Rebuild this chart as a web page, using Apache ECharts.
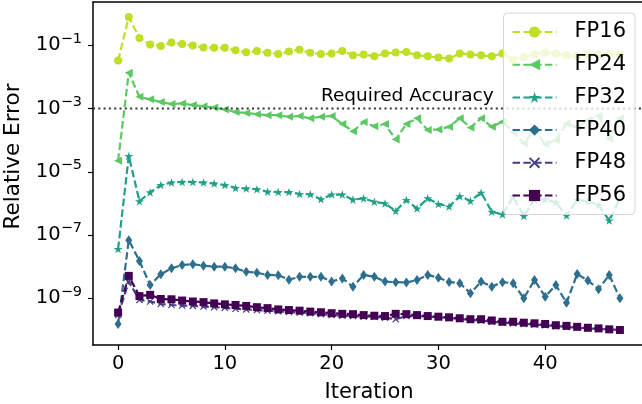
<!DOCTYPE html>
<html>
<head>
<meta charset="utf-8">
<script src="https://cdn.jsdelivr.net/npm/echarts@6/dist/echarts.min.js"></script>
<style>
  html, body { margin: 0; padding: 0; background: #fff; }
  #chart { width: 642px; height: 404px; }
</style>
</head>
<body>
<div id="chart"></div>
<script>
// iteration index of every point
const iterations = [0, 1, 2, 3, 4, 5, 6, 7, 8, 9, 10, 11, 12, 13, 14, 15, 16, 17, 18, 19,
  20, 21, 22, 23, 24, 25, 26, 27, 28, 29, 30, 31, 32, 33, 34, 35, 36, 37, 38, 39,
  40, 41, 42, 43, 44, 45, 46, 47]

// relative error, stored as log10 exponents
const fp16Exp = [-1.48, -0.11, -0.77, -0.98, -1.02, -0.91, -0.96, -1.01, -1.07, -1.08,
  -1.08, -1.16, -1.22, -1.18, -1.24, -1.28, -1.20, -1.14, -1.24, -1.28,
  -1.26, -1.18, -1.32, -1.29, -1.35, -1.26, -1.23, -1.21, -1.32, -1.35,
  -1.39, -1.42, -1.26, -1.29, -1.32, -1.35, -1.26, -1.45, -1.37, -1.29,
  -1.23, -1.26, -1.32, -1.35, -1.28, -1.29, -1.28, -1.28]
const fp24Exp = [-4.65, -1.87, -2.63, -2.71, -2.79, -2.86, -2.84, -2.89, -2.93, -2.97,
  -3.03, -3.11, -3.14, -3.18, -3.21, -3.21, -3.26, -3.24, -3.31, -3.26,
  -3.24, -3.49, -3.72, -3.43, -3.56, -3.49, -3.98, -3.49, -3.31, -3.68,
  -3.66, -3.58, -3.31, -3.60, -3.31, -3.58, -3.42, -3.74, -4.10, -3.66,
  -4.13, -4.00, -3.47, -3.60, -3.37, -3.24, -3.95, -3.31]
const fp32Exp = [-7.44, -4.50, -5.93, -5.65, -5.42, -5.34, -5.32, -5.32, -5.34, -5.37,
  -5.42, -5.51, -5.53, -5.55, -5.63, -5.64, -5.64, -5.70, -5.71, -5.87,
  -5.72, -5.72, -5.88, -5.84, -5.95, -6.00, -6.24, -5.89, -6.16, -5.84,
  -6.02, -6.10, -5.77, -5.92, -5.66, -6.26, -6.35, -5.79, -6.40, -5.87,
  -5.87, -5.97, -6.38, -5.89, -5.93, -6.05, -6.54, -5.85]
const fp40Exp = [-9.81, -7.16, -7.82, -8.58, -8.24, -8.05, -7.95, -7.92, -7.97, -8.00,
  -8.00, -8.05, -8.16, -8.19, -8.26, -8.27, -8.41, -8.32, -8.32, -8.32,
  -8.47, -8.37, -8.63, -8.26, -8.32, -8.47, -8.49, -8.50, -8.42, -8.26,
  -8.35, -8.48, -8.52, -8.84, -8.47, -8.63, -8.49, -8.52, -9.00, -8.42,
  -8.95, -8.58, -9.14, -8.23, -8.44, -8.71, -8.26, -9.00]
const fp48Exp = [-9.53, -8.47, -9.05, -9.10, -9.18, -9.21, -9.23, -9.24, -9.26, -9.28,
  -9.30, -9.33, -9.35, -9.37, -9.39, -9.41, -9.43, -9.45, -9.47, -9.50,
  -9.53, -9.55, -9.56, -9.58, -9.58, -9.61, -9.66, -9.56, -9.56, -9.58,
  -9.60, -9.62, -9.65, -9.68, -9.70, -9.74, -9.77, -9.79, -9.81, -9.83,
  -9.85, -9.88, -9.90, -9.93, -9.95, -9.97, -9.98, -10.00]
const fp56Exp = [-9.45, -8.29, -8.93, -8.89, -9.02, -9.03, -9.07, -9.10, -9.12, -9.16,
  -9.19, -9.21, -9.24, -9.28, -9.31, -9.35, -9.37, -9.39, -9.42, -9.44,
  -9.47, -9.49, -9.50, -9.53, -9.55, -9.56, -9.49, -9.50, -9.53, -9.56,
  -9.58, -9.60, -9.63, -9.66, -9.66, -9.70, -9.74, -9.74, -9.77, -9.79,
  -9.81, -9.85, -9.87, -9.90, -9.93, -9.95, -9.98, -10.00]

const seriesNames = ['FP16', 'FP24', 'FP32', 'FP40', 'FP48', 'FP56']
const xTicks = [0, 10, 20, 30, 40]
const yTicks = [1e-9, 1e-7, 1e-5, 1e-3, 1e-1]
const xMin = -2.35
const xMax = 49.35
const yMin = Math.pow(10, -10.475)
const yMax = Math.pow(10, 0.367)
const requiredAccuracy = 1e-3
const accuracyLabelX = 19

const colors = ['#bddf26', '#5cc863', '#1fa088', '#2e6e8e', '#433e85', '#440154']

const starPath = 'path://M50,0 L61.2,34.6 L97.6,34.6 L68.1,55.9 L79.4,90.5 L50,69 L20.6,90.5 L31.9,55.9 L2.4,34.6 L38.8,34.6 Z'
const crossPath = 'path://M0,12 L12,0 L50,38 L88,0 L100,12 L62,50 L100,88 L88,100 L50,62 L12,100 L0,88 L38,50 Z'

const markers = [
  { symbol: 'circle', size: 8, rotate: 0 },
  { symbol: 'triangle', size: 8, rotate: 90 },
  { symbol: starPath, size: 9, rotate: 0 },
  { symbol: 'diamond', size: [7, 10], rotate: 0 },
  { symbol: crossPath, size: 7, rotate: 0 },
  { symbol: 'rect', size: 8, rotate: 0 }
]

const allExp = [fp16Exp, fp24Exp, fp32Exp, fp40Exp, fp48Exp, fp56Exp]

const font = 'DejaVu Sans'

const chart = echarts.init(document.getElementById('chart'), null, { renderer: 'canvas' })

const series = seriesNames.map((name, i) => {
  return {
    name: name,
    type: 'line',
    data: iterations.map((x, k) => [x, Math.pow(10, allExp[i][k])]),
    symbol: markers[i].symbol,
    symbolSize: markers[i].size,
    symbolRotate: markers[i].rotate,
    symbolKeepAspect: true,
    showAllSymbol: true,
    itemStyle: { color: colors[i] },
    lineStyle: { color: colors[i], width: 2.2, type: [7.5, 3.3] },
    emphasis: { disabled: true },
    z: 3
  }
})

// horizontal dotted reference line across the whole axis
series.push({
  name: 'Required Accuracy',
  type: 'line',
  data: [[xMin, requiredAccuracy], [xMax, requiredAccuracy]],
  symbol: 'none',
  silent: true,
  lineStyle: { color: '#333', width: 2, type: [2, 3.3] },
  emphasis: { disabled: true },
  z: 4,
  markPoint: {
    silent: true,
    symbolSize: 0,
    itemStyle: { color: 'transparent' },
    label: {
      show: true,
      position: 'right',
      distance: 0,
      offset: [0, -12],
      formatter: 'Required Accuracy',
      color: '#000',
      fontFamily: font,
      fontSize: 18.5
    },
    data: [{ coord: [accuracyLabelX, requiredAccuracy] }]
  }
})

const axisLineStyle = { color: '#000', width: 1.5 }

const option = {
  animation: false,
  textStyle: { fontFamily: font, color: '#000' },
  grid: {
    left: 93,
    top: 2,
    width: 552,
    height: 343,
    outerBoundsMode: 'none',
    show: false
  },
  legend: {
    data: seriesNames,
    orient: 'vertical',
    right: 7,
    top: 13,
    z: 10,
    padding: [8, 9, 8, 8],
    itemWidth: 44,
    itemHeight: 14,
    itemGap: 10.7,
    backgroundColor: 'rgba(255,255,255,0.8)',
    borderColor: '#d6d6d6',
    borderWidth: 1,
    borderRadius: 4,
    textStyle: {
      fontFamily: font,
      fontSize: 21,
      lineHeight: 22,
      color: '#000',
      padding: [0, 0, 0, 13]
    }
  },
  xAxis: [
    {
      type: 'value',
      min: xMin,
      max: xMax,
      name: 'Iteration',
      nameLocation: 'middle',
      nameGap: 37,
      nameTextStyle: { fontFamily: font, fontSize: 21, color: '#000' },
      axisLine: { show: true, onZero: false, lineStyle: axisLineStyle },
      axisTick: { show: true, length: 5, lineStyle: { color: '#000', width: 1.2 }, customValues: xTicks },
      axisLabel: { fontFamily: font, fontSize: 19.5, color: '#000', margin: 9, customValues: xTicks },
      splitLine: { show: false }
    },
    {
      // top spine only
      type: 'value',
      position: 'top',
      min: xMin,
      max: xMax,
      axisLine: { show: true, onZero: false, lineStyle: axisLineStyle },
      axisTick: { show: false },
      axisLabel: { show: false },
      splitLine: { show: false }
    }
  ],
  yAxis: {
    type: 'log',
    logBase: 10,
    min: yMin,
    max: yMax,
    name: 'Relative Error',
    nameLocation: 'middle',
    nameGap: 66,
    nameTextStyle: { fontFamily: font, fontSize: 21.5, color: '#000', padding: [0, 0, 0, 34] },
    axisLine: { show: true, onZero: false, lineStyle: axisLineStyle },
    axisTick: { show: true, length: 5, lineStyle: { color: '#000', width: 1.2 }, customValues: yTicks },
    minorTick: { show: false },
    splitLine: { show: false },
    axisLabel: {
      margin: 11,
      customValues: yTicks,
      formatter: function (value) {
        const e = Math.round(Math.log10(value))
        return '{b|10}{s|' + (e < 0 ? '\u2212' + (-e) : e) + '}'
      },
      rich: {
        b: { fontFamily: font, fontSize: 19.5, color: '#000', lineHeight: 28 },
        s: { fontFamily: font, fontSize: 14.5, color: '#000', lineHeight: 14, verticalAlign: 'top' }
      }
    }
  },
  series: series
}

chart.setOption(option)
</script>
</body>
</html>
